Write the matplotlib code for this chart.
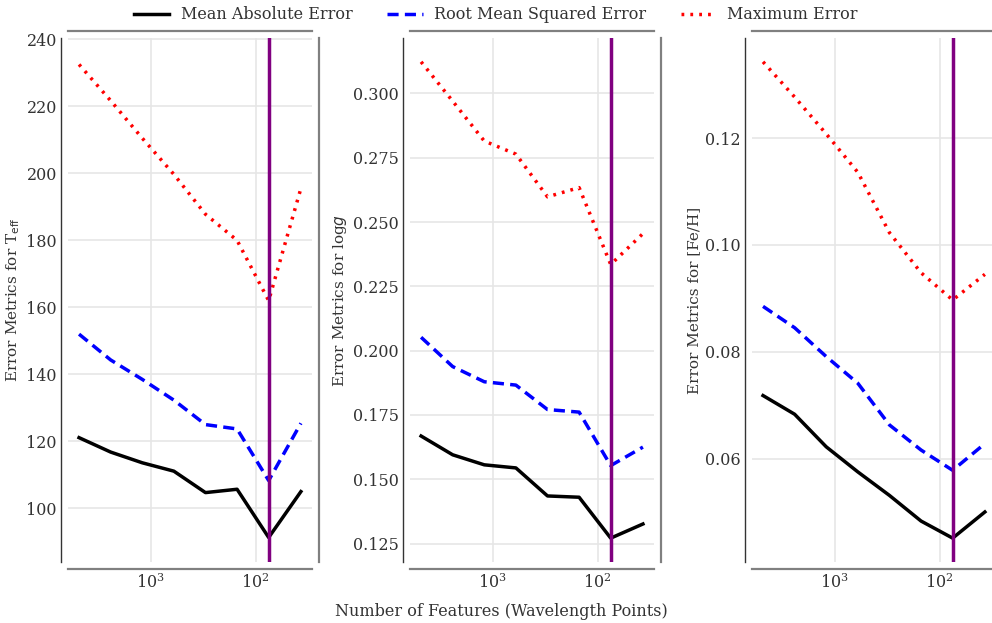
import numpy as np
import matplotlib
matplotlib.use("Agg")
import matplotlib.pyplot as plt

plt.rcParams['font.family'] = ['DejaVu Serif']

# number of features (wavelength points), halved at each step
n_features = [4800, 2400, 1200, 600, 300, 150, 75, 37]
best_n = 75

mae_teff = [121.1, 116.8, 113.6, 111.1, 104.7, 105.7, 91.3, 105.0]
rmse_teff = [152.0, 144.3, 138.5, 132.3, 125.0, 123.7, 108.3, 125.4]
max_teff = [232.5, 221.7, 210.5, 199.7, 187.8, 180.0, 162.0, 195.5]

mae_logg = [0.1668, 0.1595, 0.1556, 0.1544, 0.1435, 0.1430, 0.1271, 0.1326]
rmse_logg = [0.2052, 0.1938, 0.1879, 0.1866, 0.1771, 0.1761, 0.1553, 0.1625]
max_logg = [0.3123, 0.2970, 0.2815, 0.2764, 0.2598, 0.2634, 0.2335, 0.2455]

mae_feh = [0.0718, 0.0683, 0.0622, 0.0575, 0.0531, 0.0483, 0.0451, 0.0500]
rmse_feh = [0.0885, 0.0845, 0.0791, 0.0741, 0.0663, 0.0616, 0.0578, 0.0628]
max_feh = [0.1343, 0.1277, 0.1208, 0.1136, 0.1023, 0.0948, 0.0897, 0.0945]

ylabels = ['Error Metrics for T$_{\\rm eff}$', 'Error Metrics for log$g$',
           'Error Metrics for [Fe/H]']
panels = [(mae_teff, rmse_teff, max_teff),
          (mae_logg, rmse_logg, max_logg),
          (mae_feh, rmse_feh, max_feh)]

fig = plt.figure(figsize=(9.92, 6.23), dpi=100)
lefts = [0.0685, 0.4133, 0.758]
axes = [fig.add_axes([l, 0.098, 0.246, 0.841]) for l in lefts]

for ax, (mae, rmse, mx), yl in zip(axes, panels, ylabels):
    ax.plot(n_features, mae, color='black', lw=2.5, ls='-', label='Mean Absolute Error')
    ax.plot(n_features, rmse, color='blue', lw=2.5, ls=(0, (3.2, 1.8)), label='Root Mean Squared Error')
    ax.plot(n_features, mx, color='red', lw=2.5, ls=(0, (0.8, 1.75)), label='Maximum Error')
    ax.axvline(best_n, color='purple', lw=2.5, zorder=5)
    ax.set_xscale('log')
    ax.invert_xaxis()
    ax.grid(True, color='#e6e6e6', lw=1.2)
    ax.set_axisbelow(True)
    ax.tick_params(length=0, labelsize=11.5, colors='#333333', pad=3)
    ax.set_ylabel(yl, fontsize=11, color='#333333', labelpad=3)
    for s in ['top', 'right', 'bottom']:
        ax.spines[s].set_position(('outward', 5))
        ax.spines[s].set_color('#808080')
        ax.spines[s].set_linewidth(1.6)
    ax.spines['left'].set_position(('outward', 5))
    ax.spines['left'].set_color('#333333')
    ax.spines['left'].set_linewidth(1.0)
    ax.minorticks_off()

axes[0].set_ylim(84, 240.4)

fig.text(0.505, 0.018, 'Number of Features (Wavelength Points)', ha='center',
         va='center', fontsize=11.5, color='#333333')
h, l = axes[0].get_legend_handles_labels()
fig.legend(h, l, loc='upper center', ncol=3, frameon=False, fontsize=11.5,
           bbox_to_anchor=(0.5, 1.013), columnspacing=2.2, handlelength=2.2,
           handletextpad=0.7, labelcolor='#333333')

fig.savefig('out.png', dpi=100)
